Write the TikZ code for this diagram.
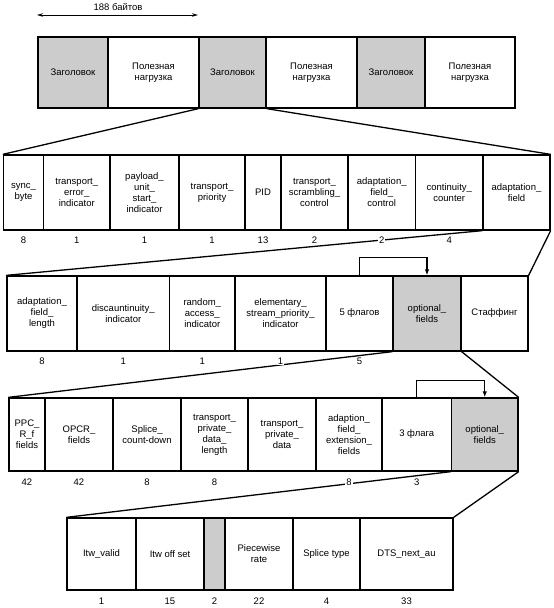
\documentclass[tikz,border=0pt]{standalone}
\usepackage{fontspec}
\setmainfont{Liberation Sans}
\usetikzlibrary{arrows.meta}
\definecolor{cellgray}{RGB}{204,204,204}
\begin{document}
\begin{tikzpicture}[x=1pt,y=-1pt,
  box/.style={draw, line width=1.3pt, inner sep=1pt, align=center,
    font=\fontsize{9.5}{11}\selectfont, anchor=center},
  graybox/.style={box, fill=cellgray},
  num/.style={fill=white, inner sep=1pt, font=\fontsize{9.5}{11}\selectfont},
  conn/.style={line width=1.3pt},
  flag/.style={line width=1.2pt, -{Latex[length=6pt,width=4.5pt]}},
  span/.style={line width=0.9pt, {Stealth[length=6pt,width=3.5pt]}-{Stealth[length=6pt,width=3.5pt]}}]
\useasboundingbox (0,0) rectangle (554,608);

% 188 bytes
\coordinate (sl) at (37,15);
\coordinate (sr) at (198,15);
\draw[span] (sl) -- (sr);
\node[font=\fontsize{9.5}{11}\selectfont] (stxt) at (118,7.5) {188 байтов};

% Row 0
\node[graybox, minimum width=70pt, minimum height=71pt] (a1) at (73,72.5) {Заголовок};
\node[box, minimum width=91pt, minimum height=71pt] (a2) at (153.5,72.5) {Полезная\\нагрузка};
\node[graybox, minimum width=67pt, minimum height=71pt] (a3) at (232.5,72.5) {Заголовок};
\node[box, minimum width=91pt, minimum height=71pt] (a4) at (311.5,72.5) {Полезная\\нагрузка};
\node[graybox, minimum width=68pt, minimum height=71pt] (a5) at (391,72.5) {Заголовок};
\node[box, minimum width=90pt, minimum height=71pt] (a6) at (470,72.5) {Полезная\\нагрузка};

% Row 1
\node[box, minimum width=40pt, minimum height=75pt] (b1) at (23.5,192.5) {sync\_\\byte};
\node[box, minimum width=66.5pt, minimum height=75pt] (b2) at (76.75,192.5) {transport\_\\error\_\\indicator};
\node[box, minimum width=69pt, minimum height=75pt] (b3) at (144.5,192.5) {payload\_\\unit\_\\start\_\\indicator};
\node[box, minimum width=66pt, minimum height=75pt] (b4) at (212,192.5) {transport\_\\priority};
\node[box, minimum width=36pt, minimum height=75pt] (b5) at (263,192.5) {PID};
\node[box, minimum width=67pt, minimum height=75pt] (b6) at (314.5,192.5) {transport\_\\scrambling\_\\control};
\node[box, minimum width=67.5pt, minimum height=75pt] (b7) at (381.75,192.5) {adaptation\_\\field\_\\control};
\node[box, minimum width=67.5pt, minimum height=75pt] (b8) at (449.25,192.5) {continuity\_\\counter};
\node[box, minimum width=67pt, minimum height=75pt] (b9) at (516.5,192.5) {adaptation\_\\field};

% Row 2
\node[box, minimum width=70pt, minimum height=75pt] (c1) at (42,313.5) {adaptation\_\\field\_\\length};
\node[box, minimum width=92.5pt, minimum height=75pt] (c2) at (123.25,313.5) {discauntinuity\_\\indicator};
\node[box, minimum width=65.5pt, minimum height=75pt] (c3) at (202.25,313.5) {random\_\\access\_\\indicator};
\node[box, minimum width=91pt, minimum height=75pt] (c4) at (280.5,313.5) {elementary\_\\stream\_priority\_\\indicator};
\node[box, minimum width=67pt, minimum height=75pt] (c5) at (359.5,313.5) {5 флагов};
\node[graybox, minimum width=68pt, minimum height=75pt] (c6) at (427,313.5) {optional\_\\fields};
\node[box, minimum width=67pt, minimum height=75pt] (c7) at (494.5,313.5) {Стаффинг};

% Row 3
\node[box, minimum width=36pt, minimum height=73pt] (d1) at (27,434.5) {PPC\_\\R\_f\\fields};
\node[box, minimum width=68pt, minimum height=73pt] (d2) at (79,434.5) {OPCR\_\\fields};
\node[box, minimum width=68pt, minimum height=73pt] (d3) at (147,434.5) {Splice\_\\count-down};
\node[box, minimum width=67pt, minimum height=73pt] (d4) at (214.5,434.5) {transport\_\\private\_\\data\_\\length};
\node[box, minimum width=68pt, minimum height=73pt] (d5) at (282,434.5) {transport\_\\private\_\\data};
\node[box, minimum width=66pt, minimum height=73pt] (d6) at (349,434.5) {adaption\_\\field\_\\extension\_\\fields};
\node[box, minimum width=69.5pt, minimum height=73pt] (d7) at (416.75,434.5) {3 флага};
\node[graybox, minimum width=66.5pt, minimum height=73pt] (d8) at (484.75,434.5) {optional\_\\fields};

% Row 4
\node[box, minimum width=69pt, minimum height=72pt] (e1) at (101.5,554) {Itw\_valid};
\node[box, minimum width=68pt, minimum height=72pt] (e2) at (170,554) {Itw off set};
\node[graybox, minimum width=21pt, minimum height=72pt] (e3) at (214.5,554) {};
\node[box, minimum width=68pt, minimum height=72pt] (e4) at (259,554) {Piecewise\\rate};
\node[box, minimum width=67pt, minimum height=72pt] (e5) at (326.5,554) {Splice type};
\node[box, minimum width=93pt, minimum height=72pt] (e6) at (406.5,554) {DTS\_next\_au};

% Expansion connectors
\draw[conn] (a3.south west) -- (b1.north west);
\draw[conn] (a3.south east) -- (b9.north east);
\draw[conn] (b9.south west) -- (c1.north west);
\draw[conn] (b9.south east) -- (c7.north east);
\draw[conn] (c6.south west) -- (d1.north west);
\draw[conn] (c6.south east) -- (d8.north east);
\draw[conn] (d8.south west) -- (e1.north west);
\draw[conn] (d8.south east) -- (e6.north east);

% Bit counts
\node[num] (n11) at (23.5,240) {8};
\node[num] (n12) at (76.75,240) {1};
\node[num] (n13) at (144.5,240) {1};
\node[num] (n14) at (212,240) {1};
\node[num] (n15) at (263,240) {13};
\node[num] (n16) at (314.5,240) {2};
\node[num] (n17) at (381.75,240) {2};
\node[num] (n18) at (449.25,240) {4};

\node[num] (n21) at (42,361) {8};
\node[num] (n22) at (123.25,361) {1};
\node[num] (n23) at (202.25,361) {1};
\node[num] (n24) at (280.5,361) {1};
\node[num] (n25) at (359.5,361) {5};

\node[num] (n31) at (27,482) {42};
\node[num] (n32) at (79,482) {42};
\node[num] (n33) at (147,482) {8};
\node[num] (n34) at (214.5,482) {8};
\node[num] (n36) at (349,482) {8};
\node[num] (n37) at (416.75,482) {3};

\node[num] (n41) at (101.5,601) {1};
\node[num] (n42) at (170,601) {15};
\node[num] (n43) at (214.5,601) {2};
\node[num] (n44) at (259,601) {22};
\node[num] (n45) at (326.5,601) {4};
\node[num] (n46) at (406.5,601) {33};

% Flag arrows
\draw[flag] (c5.north) -- ++(0,-18) -| (c6.north);
\draw[flag] (d7.north) -- ++(0,-17) -| (d8.north);
\end{tikzpicture}
\end{document}
